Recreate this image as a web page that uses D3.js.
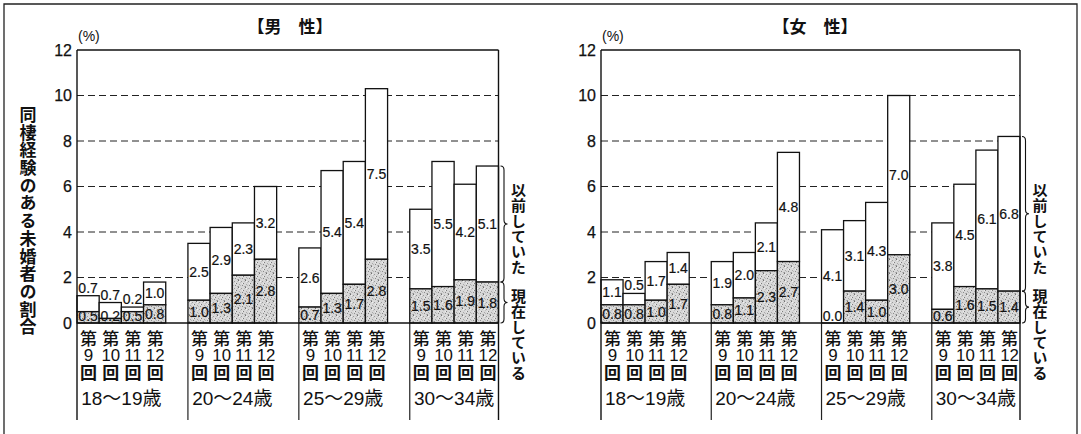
<!DOCTYPE html>
<html><head><meta charset="utf-8">
<script src="https://cdn.jsdelivr.net/npm/d3@7"></script>
<style>
html,body{margin:0;padding:0;background:#fff;}
#wrap{position:relative;width:1081px;height:434px;overflow:hidden;}
svg{display:block;position:absolute;left:0;top:0;}
#ov{position:absolute;left:0;top:0;width:1081px;height:434px;}
.vt{position:absolute;writing-mode:vertical-rl;white-space:nowrap;color:#111;}
.tcy{text-combine-upright:all;}
</style></head>
<body>
<div id="wrap">
<svg id="c" width="1081" height="434"></svg>
<div id="ov"></div>
</div>
<script>
// ---- data ----
const groups = ["18〜19歳", "20〜24歳", "25〜29歳", "30〜34歳"];
const rounds = ["9", "10", "11", "12"];
const yTicks = [0, 2, 4, 6, 8, 10, 12];
const gridTicks = [2, 4, 6, 8, 10];
// 現在している (currently cohabiting)
const maleNow   = [[0.5, 0.2, 0.5, 0.8], [1.0, 1.3, 2.1, 2.8], [0.7, 1.3, 1.7, 2.8], [1.5, 1.6, 1.9, 1.8]];
// 以前していた (previously cohabited)
const malePast  = [[0.7, 0.7, 0.2, 1.0], [2.5, 2.9, 2.3, 3.2], [2.6, 5.4, 5.4, 7.5], [3.5, 5.5, 4.2, 5.1]];
const femaleNow = [[0.8, 0.8, 1.0, 1.7], [0.8, 1.1, 2.3, 2.7], [0.0, 1.4, 1.0, 3.0], [0.6, 1.6, 1.5, 1.4]];
const femalePast= [[1.1, 0.5, 1.7, 1.4], [1.9, 2.0, 2.1, 4.8], [4.1, 3.1, 4.3, 7.0], [3.8, 4.5, 6.1, 6.8]];
const panelTitles = ["【男　性】", "【女　性】"];
const yTitle = "同棲経験のある未婚者の割合";
const pastLabel = "以前していた";
const nowLabel = "現在している";

const svg = d3.select("#c");
const ov = d3.select("#ov");
const JP = "'Noto Sans CJK JP','Noto Sans',sans-serif";
const NUM = "'Liberation Sans',Arial,sans-serif";
const MIX = "'Liberation Sans','Noto Sans CJK JP',sans-serif";
const INK = "#111";
const fmt = d3.format(".1f");

// stipple pattern for "currently" segment
const defs = svg.append("defs");
const pat = defs.append("pattern").attr("id", "dots").attr("patternUnits", "userSpaceOnUse")
  .attr("width", 7).attr("height", 7);
pat.append("rect").attr("width", 7).attr("height", 7).attr("fill", "#d8d8d8");
[[0,0,"#6e6e6e"],[3,1,"#9a9a9a"],[5,3,"#7c7c7c"],[1,4,"#a8a8a8"],[4,5,"#8a8a8a"],[6,6,"#b4b4b4"],[2,2,"#c0c0c0"],[0,6,"#959595"],[6,1,"#bdbdbd"],[2,5,"#b8b8b8"],[4,3,"#eeeeee"],[1,1,"#f0f0f0"]]
  .forEach(([px, py, c]) => pat.append("rect").attr("x", px).attr("y", py).attr("width", 1).attr("height", 1).attr("fill", c));

// outer border
svg.append("path").attr("d", "M4,434V4H1077V434").attr("fill", "none").attr("stroke", "#222").attr("stroke-width", 1.3);

// vertical text (one element, writing-mode vertical-rl)
function vtext(cx, firstCenter, size, pitch, weight, text) {
  const lh = size + 4;
  return ov.append("div").attr("class", "vt")
    .style("left", (cx - lh / 2) + "px")
    .style("top", (firstCenter - pitch / 2 + (pitch - size) / 2) + "px")
    .style("line-height", lh + "px")
    .style("font-family", JP).style("font-size", size + "px").style("font-weight", weight)
    .style("letter-spacing", (pitch - size) + "px")
    .text(text);
}

// y title
vtext(28, 114, 17, 17.7, "bold", yTitle);

const panels = [
  {x0: 77, x1: 498.5, titleX: 290, now: maleNow, past: malePast, title: panelTitles[0]},
  {x0: 601, x1: 1020, titleX: 815, now: femaleNow, past: femalePast, title: panelTitles[1]}
];

const y = d3.scaleLinear().domain([0, 12]).range([323, 50]);
const yBottom = 420;

panels.forEach(p => {
  const g = svg.append("g");
  const step = (p.x1 - p.x0) / 19 * 5;
  const gx = d3.scaleBand().domain(groups).range([p.x0, p.x0 + step * 4]).padding(0);
  const bx = d3.scaleBand().domain(rounds).range([0, step * 4 / 5]).padding(0);

  // title
  g.append("text").attr("x", p.titleX).attr("y", 25).attr("text-anchor", "middle")
    .attr("dominant-baseline", "central").attr("font-family", JP).attr("font-size", 17)
    .attr("font-weight", "bold").attr("fill", INK).text(p.title);
  g.append("text").attr("x", p.x0 + 1).attr("y", 36).attr("dominant-baseline", "central")
    .attr("font-family", NUM).attr("font-size", 14).attr("fill", INK).text("(%)");

  // grid lines
  g.selectAll(".grid").data(gridTicks).join("line")
    .attr("x1", p.x0).attr("x2", p.x1).attr("y1", d => y(d)).attr("y2", d => y(d))
    .attr("stroke", "#222").attr("stroke-width", 1).attr("stroke-dasharray", "7,4");
  // tick labels
  g.selectAll(".tick").data(yTicks).join("text")
    .attr("x", p.x0 - 5).attr("y", d => y(d)).attr("text-anchor", "end")
    .attr("dominant-baseline", "central").attr("font-family", NUM).attr("font-size", 16)
    .attr("fill", INK).attr("stroke", INK).attr("stroke-width", 0.25).text(d => d);

  // bars
  groups.forEach((grp, gi) => {
    rounds.forEach((r, ri) => {
      const nv = p.now[gi][ri], pv = p.past[gi][ri];
      const x = gx(grp) + bx(r), w = bx.bandwidth();
      // past (white) segment
      g.append("rect").attr("x", x).attr("y", y(nv + pv)).attr("width", w)
        .attr("height", y(nv) - y(nv + pv)).attr("fill", "#fff").attr("stroke", INK).attr("stroke-width", 1.3);
      // now (stippled) segment
      g.append("rect").attr("x", x).attr("y", y(nv)).attr("width", w)
        .attr("height", y(0) - y(nv)).attr("fill", "url(#dots)").attr("stroke", INK).attr("stroke-width", 1.3);
      // labels
      const segH = y(nv) - y(nv + pv);
      const py = segH >= 17 ? (y(nv) + y(nv + pv)) / 2 : y(nv + pv) - 8;
      g.append("text").attr("x", x + w / 2).attr("y", py).attr("text-anchor", "middle")
        .attr("dominant-baseline", "central").attr("font-family", NUM).attr("font-size", 14)
        .attr("fill", INK).attr("stroke", INK).attr("stroke-width", 0.2).text(fmt(pv));
      const ny = Math.min(y(nv / 2), y(0) - 7);
      g.append("text").attr("x", x + w / 2).attr("y", ny).attr("text-anchor", "middle")
        .attr("dominant-baseline", "central").attr("font-family", NUM).attr("font-size", 14)
        .attr("fill", INK).attr("stroke", INK).attr("stroke-width", 0.2).text(fmt(nv));
      // category label 第 n 回 (one vertical element)
      const cx = x + w / 2, size = 17, pitch = 17.5, lh = 22;
      const d = ov.append("div").attr("class", "vt")
        .style("left", (cx - lh / 2) + "px").style("top", (338 - size / 2) + "px")
        .style("line-height", lh + "px").style("font-family", JP).style("font-size", size + "px")
        .style("letter-spacing", (pitch - size) + "px");
      d.append("span").style("font-weight", "500").text("第");
      d.append("span").attr("class", "tcy").style("font-family", NUM).style("font-size", "17px").text(r);
      d.append("span").style("font-weight", "bold").text("回");
    });
    // group label
    g.append("text").attr("x", gx(grp) + step * 2 / 5).attr("y", 398).attr("text-anchor", "middle")
      .attr("dominant-baseline", "central").attr("font-family", MIX).attr("font-size", 19)
      .attr("fill", INK).text(grp);
    // separators
    if (gi > 0) {
      g.append("line").attr("x1", gx(grp)).attr("x2", gx(grp)).attr("y1", y(0)).attr("y2", yBottom)
        .attr("stroke", "#222").attr("stroke-width", 1.2);
    }
  });

  // frame
  g.append("line").attr("x1", p.x0).attr("x2", p.x1).attr("y1", y(12)).attr("y2", y(12)).attr("stroke", INK).attr("stroke-width", 1.4);
  g.append("line").attr("x1", p.x0).attr("x2", p.x1).attr("y1", y(0)).attr("y2", y(0)).attr("stroke", INK).attr("stroke-width", 1.4);
  g.append("line").attr("x1", p.x0).attr("x2", p.x0).attr("y1", y(12)).attr("y2", yBottom).attr("stroke", INK).attr("stroke-width", 1.4);
  g.append("line").attr("x1", p.x1).attr("x2", p.x1).attr("y1", y(12)).attr("y2", yBottom).attr("stroke", INK).attr("stroke-width", 1.4);

  // braces keyed to the last bar
  const lastNow = p.now[3][3], lastPast = p.past[3][3];
  function brace(y0, y1) {
    const bxl = p.x1 + 2, w = 7, q = 4, m = (y0 + y1) / 2;
    const path = d3.path();
    path.moveTo(bxl, y0);
    path.quadraticCurveTo(bxl + w / 2, y0, bxl + w / 2, y0 + q);
    path.lineTo(bxl + w / 2, m - q);
    path.quadraticCurveTo(bxl + w / 2, m, bxl + w, m);
    path.quadraticCurveTo(bxl + w / 2, m, bxl + w / 2, m + q);
    path.lineTo(bxl + w / 2, y1 - q);
    path.quadraticCurveTo(bxl + w / 2, y1, bxl, y1);
    g.append("path").attr("d", path.toString()).attr("fill", "none").attr("stroke", INK).attr("stroke-width", 1.1);
  }
  brace(y(lastNow + lastPast), y(lastNow));
  brace(y(lastNow), y(0));

  const lx = p.x1 + 20;
  vtext(lx, 190, 15, 15.3, "bold", pastLabel);
  vtext(lx, 296, 15, 15.3, "bold", nowLabel);
});
</script>
</body></html>
